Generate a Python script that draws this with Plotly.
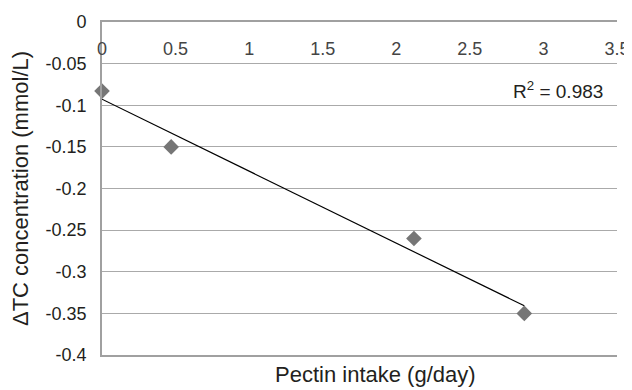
import numpy as np
import plotly.graph_objects as go

pectin_intake = [0.0, 0.47, 2.12, 2.87]
delta_tc = [-0.083, -0.15, -0.26, -0.35]
x_ticks = [0, 0.5, 1, 1.5, 2, 2.5, 3, 3.5]
y_ticks = [0, -0.05, -0.1, -0.15, -0.2, -0.25, -0.3, -0.35, -0.4]
r2_text = "R<sup>2</sup> = 0.983"

slope, intercept = np.polyfit(pectin_intake, delta_tc, 1)
fit_x = [min(pectin_intake), max(pectin_intake)]
fit_y = [slope * v + intercept for v in fit_x]

font = "Liberation Sans, Arial, sans-serif"

fig = go.Figure()
fig.add_trace(go.Scatter(x=fit_x, y=fit_y, mode="lines",
                         line=dict(color="black", width=1.2), showlegend=False))
fig.add_trace(go.Scatter(x=pectin_intake, y=delta_tc, mode="markers",
                         marker=dict(symbol="diamond", size=12, color="#767676"),
                         showlegend=False, cliponaxis=False))

fig.update_layout(
    width=624, height=382,
    margin=dict(l=94, r=15, t=14, b=35),
    plot_bgcolor="white", paper_bgcolor="white",
    font=dict(family=font, size=18, color="#231f20"),
    xaxis=dict(range=[0, 3.5], tickvals=x_ticks, ticktext=[f"{v:g}" for v in x_ticks],
               side="top", ticklabelposition="inside", ticklabelstandoff=21,
               ticklabeloverflow="allow", automargin=False, mirror=True,
               showgrid=False, zeroline=False, showline=True, linecolor="#a0a0a0",
               linewidth=1.8, ticks="", tickfont=dict(size=18)),
    yaxis=dict(range=[-0.4, 0], tickvals=y_ticks, ticktext=[f"{v:g}" for v in y_ticks],
               showgrid=True, gridcolor="#aaaaaa", gridwidth=1.3, zeroline=False,
               showline=True, linecolor="#a0a0a0", linewidth=1.8, ticks="",
               ticklabelstandoff=10, ticklabeloverflow="allow", automargin=False,
               tickfont=dict(size=18),
               title=dict(text="ΔTC concentration (mmol/L)", font=dict(size=22), standoff=12)),
    annotations=[
        dict(text="Pectin intake (g/day)", xref="paper", yref="paper", x=0.532, y=-0.06,
             xanchor="center", yanchor="middle", showarrow=False, font=dict(size=22)),
        dict(text=r2_text, xref="paper", yref="y", x=0.885, y=-0.0817,
             xanchor="center", yanchor="middle", showarrow=False, font=dict(size=19)),
    ],
)

fig.write_html("out.html")
